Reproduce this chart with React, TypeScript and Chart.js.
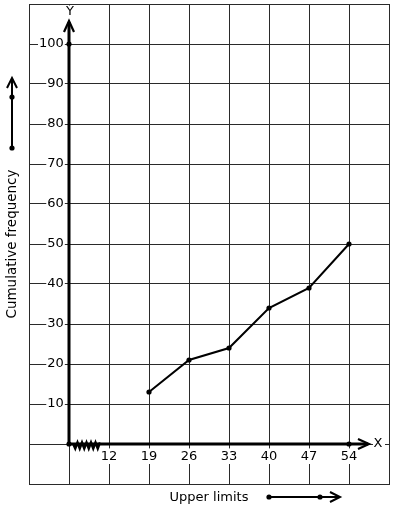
import React, { useEffect, useRef } from 'react';
import { Chart, registerables } from 'chart.js';

Chart.register(...registerables);

// ---- data ----
const xTickLabels = ['12', '19', '26', '33', '40', '47', '54'];
const upperLimits = [19, 26, 33, 40, 47, 54];
const cumulativeFrequency = [13, 21, 24, 34, 39, 50];
const yTickValues = [10, 20, 30, 40, 50, 60, 70, 80, 90, 100];
const yAxisTitle = 'Cumulative frequency';
const xAxisTitle = 'Upper limits';

const FONT = 'DejaVu Sans';
const GRID = '#2a2a2a';

// position of a class limit on the (broken) x axis: origin is 0, first label is 1
const xIndex = (v: number) => xTickLabels.indexOf(String(v)) + 1;

const chevron = (ctx: CanvasRenderingContext2D, pts: number[][]) => {
  ctx.beginPath();
  ctx.moveTo(pts[0][0], pts[0][1]);
  for (let i = 1; i < pts.length; i++) ctx.lineTo(pts[i][0], pts[i][1]);
  ctx.stroke();
};

const dot = (ctx: CanvasRenderingContext2D, x: number, y: number, r = 2.6) => {
  ctx.beginPath();
  ctx.arc(x, y, r, 0, Math.PI * 2);
  ctx.fill();
};

const decorPlugin = {
  id: 'decor',
  afterDraw(chart: any) {
    const { ctx, scales } = chart;
    const xs = scales.x;
    const ys = scales.y;
    const x0 = xs.getPixelForValue(0);
    const y0 = ys.getPixelForValue(0);
    const yTip = ys.top + 17;
    const xTip = xs.right - 20;
    ctx.save();
    ctx.strokeStyle = '#000';
    ctx.fillStyle = '#000';
    ctx.lineCap = 'butt';
    ctx.lineJoin = 'miter';

    // white patches behind axis letters
    ctx.fillStyle = '#fff';
    ctx.fillRect(x0 - 6, ys.top + 1.5, 13, yTip - ys.top - 2);
    ctx.fillRect(xs.right - 16, y0 - 7, 12, 14);
    ctx.fillStyle = '#000';

    // thick axes
    ctx.lineWidth = 3;
    ctx.beginPath();
    ctx.moveTo(x0, y0);
    ctx.lineTo(x0, yTip + 1);
    ctx.moveTo(x0, y0);
    ctx.lineTo(xTip - 1, y0);
    ctx.stroke();
    ctx.lineWidth = 2.2;
    chevron(ctx, [[x0 - 5, yTip + 11], [x0, yTip], [x0 + 5, yTip + 11]]);
    chevron(ctx, [[xTip - 11, y0 - 5], [xTip, y0], [xTip - 11, y0 + 5]]);

    // zig-zag (spring) break near the origin
    const zs = x0 + 4;
    const ze = x0 + 31;
    ctx.lineWidth = 2.4;
    ctx.beginPath();
    ctx.moveTo(zs, y0 - 0.5);
    const teeth = 6;
    const w = (ze - zs) / teeth;
    for (let i = 0; i < teeth; i++) {
      ctx.lineTo(zs + w * i + w * 0.5, y0 + 4.5);
      ctx.lineTo(zs + w * (i + 1), y0 - 1.5);
    }
    ctx.stroke();

    // marker dots on axes
    dot(ctx, x0, y0);
    dot(ctx, x0, ys.getPixelForValue(100));
    dot(ctx, xs.getPixelForValue(xIndex(54)), y0);

    // axis letters
    ctx.font = `13px "${FONT}"`;
    ctx.textAlign = 'center';
    ctx.textBaseline = 'middle';
    ctx.fillText('Y', x0 + 1, ys.top + 7.5);
    ctx.fillText('X', xs.right - 11, y0);

    // side arrows
    ctx.lineWidth = 2;
    const lx = 12;
    ctx.beginPath();
    ctx.moveTo(lx, 148);
    ctx.lineTo(lx, 79);
    ctx.stroke();
    chevron(ctx, [[lx - 5, 88], [lx, 78], [lx + 5, 88]]);
    dot(ctx, lx, 97);
    dot(ctx, lx, 148);

    const by = 497;
    ctx.beginPath();
    ctx.moveTo(269, by);
    ctx.lineTo(339, by);
    ctx.stroke();
    chevron(ctx, [[330, by - 5], [340, by], [330, by + 5]]);
    dot(ctx, 269, by);
    dot(ctx, 320, by);

    ctx.restore();
  },
};

export default function App() {
  const ref = useRef<HTMLCanvasElement | null>(null);

  useEffect(() => {
    if (!ref.current) return;
    const font = { family: FONT, size: 13 };
    const chart = new Chart(ref.current, {
      type: 'line',
      data: {
        datasets: [
          {
            label: yAxisTitle,
            data: upperLimits.map((u, i) => ({ x: xIndex(u), y: cumulativeFrequency[i] })),
            borderColor: '#000',
            backgroundColor: '#000',
            borderWidth: 2,
            pointRadius: 2.6,
            pointBackgroundColor: '#000',
            pointBorderWidth: 0,
            tension: 0,
            fill: false,
          },
        ],
      },
      options: {
        responsive: false,
        animation: false,
        events: [],
        layout: { padding: { top: 4, right: 5, left: 0, bottom: 0 } },
        plugins: { legend: { display: false }, tooltip: { enabled: false } },
        scales: {
          x: {
            type: 'linear',
            position: 'bottom',
            min: -1,
            max: 8,
            afterFit: (s: any) => {
              s.height = 26;
              s.paddingLeft = s.paddingRight = s.paddingTop = s.paddingBottom = 0;
            },
            grid: { color: GRID, lineWidth: 1, drawTicks: false },
            border: { display: true, color: GRID, width: 1 },
            ticks: {
              stepSize: 1,
              autoSkip: false,
              maxRotation: 0,
              mirror: true,
              padding: 20,
              color: '#000',
              font,
              callback: (v: any) => {
                const i = Math.round(Number(v));
                return i >= 1 && i <= xTickLabels.length ? xTickLabels[i - 1] : '';
              },
              showLabelBackdrop: (c: any) => !!(c.tick && c.tick.label),
              backdropColor: '#fff',
              backdropPadding: { top: 0, bottom: 0, left: 1, right: 1 },
            },
            title: {
              display: true,
              text: xAxisTitle,
              color: '#000',
              font,
              padding: { top: 4, bottom: 5 },
            },
          },
          y: {
            type: 'linear',
            position: 'left',
            min: -10,
            max: 110,
            afterFit: (s: any) => {
              s.width = 29;
              s.paddingLeft = s.paddingRight = s.paddingTop = s.paddingBottom = 0;
            },
            grid: { color: GRID, lineWidth: 1, drawTicks: false },
            border: { display: true, color: GRID, width: 1 },
            ticks: {
              stepSize: 10,
              autoSkip: false,
              mirror: true,
              crossAlign: 'far',
              padding: 10,
              color: '#000',
              font,
              callback: (v: any) => (yTickValues.includes(Number(v)) ? String(v) : ''),
              showLabelBackdrop: (c: any) => !!(c.tick && c.tick.label),
              backdropColor: '#fff',
              backdropPadding: { top: 0, bottom: 0, left: 1, right: 1 },
            },
            title: {
              display: true,
              text: yAxisTitle,
              color: '#000',
              font: { family: FONT, size: 13.5 },
              padding: { top: 4, bottom: 4 },
            },
          },
        },
      },
      plugins: [decorPlugin],
    } as any);
    return () => chart.destroy();
  }, []);

  return (
    <canvas
      ref={ref}
      width={394}
      height={510}
      style={{ position: 'absolute', left: 0, top: 0, width: 394, height: 510 }}
    />
  );
}
